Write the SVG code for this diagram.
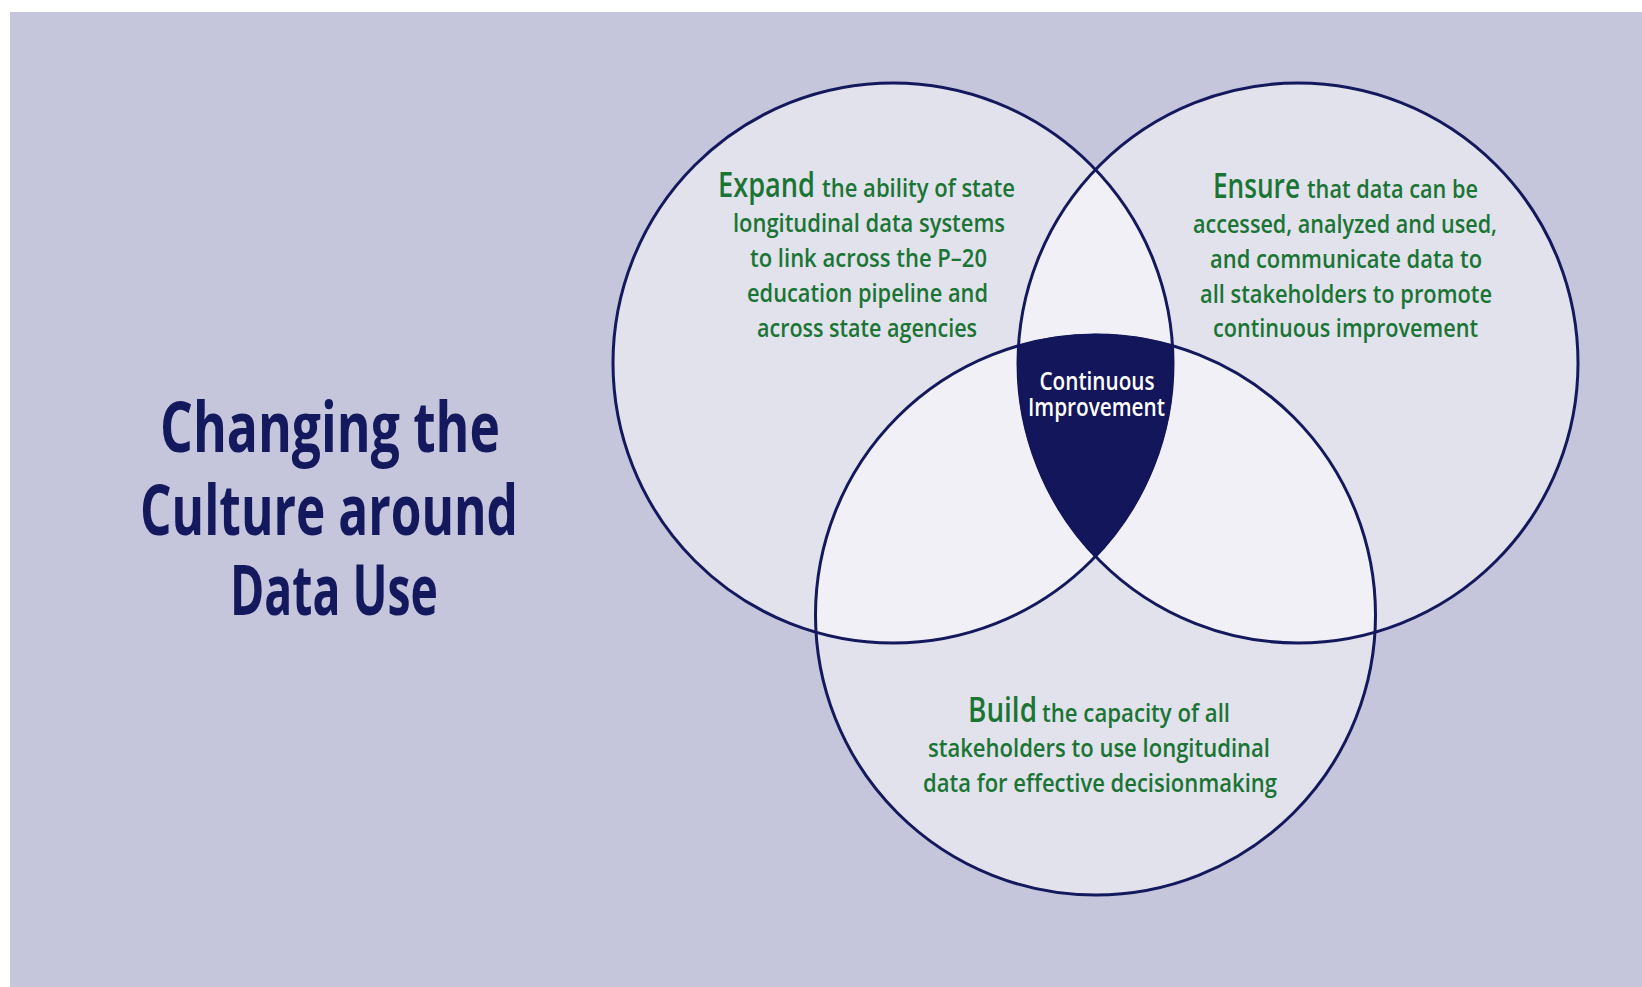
<svg xmlns="http://www.w3.org/2000/svg" width="1642" height="987" viewBox="0 0 1642 987">
<style>
.bg{fill:#c5c6dc}
.cf{fill:#e2e2ec}
.lens{fill:#f0f0f6}
.ring{fill:none;stroke:#14185c;stroke-width:3}
.core{fill:#13165a;stroke:#13165a;stroke-width:2}
.t{font-family:"Open Sans","Liberation Sans",sans-serif;font-weight:600;fill:#1a7535}
.lead{font-size:35px}
.body{font-size:26px}
.mid{text-anchor:middle}
.title{font-family:"Open Sans","Liberation Sans",sans-serif;font-weight:700;font-size:69px;fill:#14185c;text-anchor:middle}
.ci{font-family:"Open Sans","Liberation Sans",sans-serif;font-weight:600;font-size:25px;fill:#ffffff;text-anchor:middle}
</style>
<rect class="bg" x="10" y="12" width="1632" height="975"/>
<g id="title">
<text class="title" x="330" y="452" textLength="340" lengthAdjust="spacingAndGlyphs">Changing the</text>
<text class="title" x="329" y="535" textLength="378" lengthAdjust="spacingAndGlyphs">Culture around</text>
<text class="title" x="334" y="615" textLength="208" lengthAdjust="spacingAndGlyphs">Data Use</text>
</g>
<g id="fills">
<circle class="cf" cx="893" cy="363" r="280"/>
<circle class="cf" cx="1298" cy="363" r="280"/>
<circle class="cf" cx="1095.5" cy="615" r="280"/>
<path class="lens" d="M1095.5,169.63 A280,280 0 0 1 1095.5,556.37 A280,280 0 0 1 1095.5,169.63 Z"/>
<path class="lens" d="M1172.47,345.79 A280,280 0 0 1 816.03,632.21 A280,280 0 0 1 1172.47,345.79 Z"/>
<path class="lens" d="M1018.53,345.79 A280,280 0 0 0 1374.97,632.21 A280,280 0 0 0 1018.53,345.79 Z"/>
</g>
<g id="expand">
<circle class="ring" cx="893" cy="363" r="280"/>
<text class="t lead" x="718" y="197" textLength="97" lengthAdjust="spacingAndGlyphs">Expand</text>
<text class="t body" x="822" y="197" textLength="193" lengthAdjust="spacingAndGlyphs">the ability of state</text>
<text class="t body mid" x="869" y="232" textLength="272" lengthAdjust="spacingAndGlyphs">longitudinal data systems</text>
<text class="t body mid" x="868.5" y="267" textLength="237" lengthAdjust="spacingAndGlyphs">to link across the P–20</text>
<text class="t body mid" x="867.5" y="302" textLength="241" lengthAdjust="spacingAndGlyphs">education pipeline and</text>
<text class="t body mid" x="867" y="337" textLength="220" lengthAdjust="spacingAndGlyphs">across state agencies</text>
</g>
<g id="ensure">
<circle class="ring" cx="1298" cy="363" r="280"/>
<text class="t lead" x="1213" y="198" textLength="87" lengthAdjust="spacingAndGlyphs">Ensure</text>
<text class="t body" x="1307" y="198" textLength="171" lengthAdjust="spacingAndGlyphs">that data can be</text>
<text class="t body mid" x="1345" y="233" textLength="304" lengthAdjust="spacingAndGlyphs">accessed, analyzed and used,</text>
<text class="t body mid" x="1346" y="268" textLength="272" lengthAdjust="spacingAndGlyphs">and communicate data to</text>
<text class="t body mid" x="1346" y="303" textLength="292" lengthAdjust="spacingAndGlyphs">all stakeholders to promote</text>
<text class="t body mid" x="1345.5" y="337" textLength="265" lengthAdjust="spacingAndGlyphs">continuous improvement</text>
</g>
<g id="build">
<circle class="ring" cx="1095.5" cy="615" r="280"/>
<text class="t lead" x="968" y="722" textLength="69" lengthAdjust="spacingAndGlyphs">Build</text>
<text class="t body" x="1042" y="722" textLength="188" lengthAdjust="spacingAndGlyphs">the capacity of all</text>
<text class="t body mid" x="1099" y="757" textLength="342" lengthAdjust="spacingAndGlyphs">stakeholders to use longitudinal</text>
<text class="t body mid" x="1100" y="792" textLength="354" lengthAdjust="spacingAndGlyphs">data for effective decisionmaking</text>
</g>
<g id="continuous-improvement">
<path class="core" d="M1018.53,345.79 A280,280 0 0 1 1172.47,345.79 A280,280 0 0 1 1095.5,556.37 A280,280 0 0 1 1018.53,345.79 Z"/>
<text class="ci" x="1097" y="390" textLength="115" lengthAdjust="spacingAndGlyphs">Continuous</text>
<text class="ci" x="1096.5" y="416" textLength="137" lengthAdjust="spacingAndGlyphs">Improvement</text>
</g>
<g id="connectors"/>
</svg>
